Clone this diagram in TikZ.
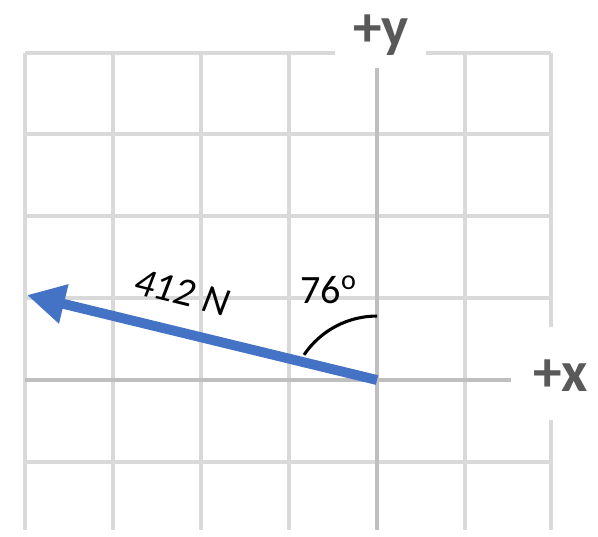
\documentclass[tikz,border=0pt]{standalone}
\usepackage{fontspec}
\setmainfont{Carlito}
\usetikzlibrary{arrows.meta}
\definecolor{forceblue}{HTML}{4472C4}
\definecolor{gridgray}{HTML}{D9D9D9}
\definecolor{axisgray}{HTML}{BFBFBF}
\definecolor{labelgray}{HTML}{595959}

\begin{document}
\begin{tikzpicture}[gridline/.style={gridgray, line width=1.3pt},
    axisline/.style={axisgray, line width=1.3pt},
    axislabel/.style={labelgray, font=\fontsize{18.5}{20}\selectfont\bfseries, anchor=base}]
    \useasboundingbox (-4.284,-1.773) rectangle (2.511,4.318);
    % grid
    \foreach \i in {-4,...,-1,1} \draw[gridline] (\i,-1.705) -- (\i,3.72);
    \draw[gridline] (1.98,-1.705) -- (1.98,-0.455);
    \draw[gridline] (1.98,0.602) -- (1.98,3.72);
    \foreach \j in {-1,1,2,3} \draw[gridline] (-4,{\j*0.93}) -- (1.98,{\j*0.93});
    \draw[gridline] (-4,3.72) -- (-0.477,3.72);
    \draw[gridline] (0.557,3.72) -- (1.98,3.72);
    % axes
    \draw[axisline] (-4,0) -- (1.523,0);
    \draw[axisline] (0,-1.705) -- (0,3.545);
    \node[axislabel] (ylabel) at (0.045,3.784) {+y};
    \node[axislabel] (xlabel) at (2.085,-0.136) {+x};
    % force
    \coordinate (O) at (0,0);
    \coordinate (F) at (-3.977,0.966);
    \coordinate (A) at (0,0.727);
    \draw[forceblue, line width=3.2pt, -{Triangle[length=0.43cm,width=0.43cm]}] (O) -- (F);
    \node[font=\fontsize{13}{15}\selectfont\itshape, rotate=-14] (forcelabel) at (-2.216,1.0) {412 N};
    \draw[line width=1pt] (A) arc[start angle=90, end angle=146, radius=1];
    \node[font=\fontsize{13}{15}\selectfont, anchor=base] (anglelabel) at (-0.545,0.875) {76\textsuperscript{o}};
\end{tikzpicture}
\end{document}
